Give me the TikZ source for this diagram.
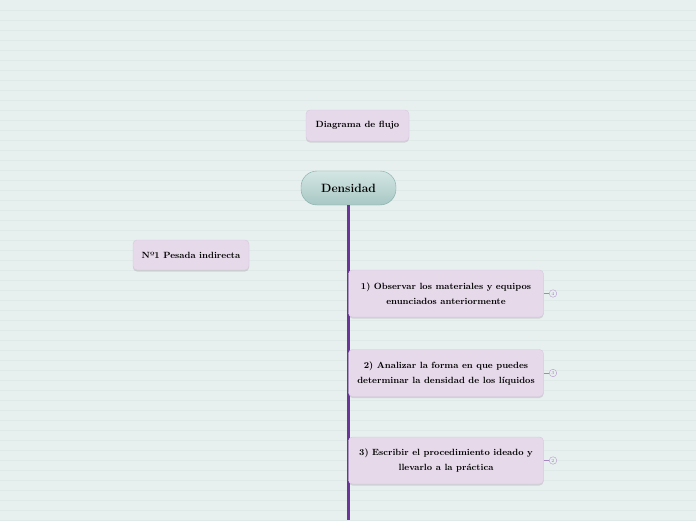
\documentclass[tikz,border=0pt]{standalone}
\usetikzlibrary{shadows,positioning}
\definecolor{bgmint}{HTML}{E8F0EF}
\definecolor{bgline}{HTML}{DFE9E8}
\definecolor{boxlila}{HTML}{E6D9EA}
\definecolor{boxedge}{HTML}{D6C7DE}
\definecolor{trunk}{HTML}{6B359A}
\definecolor{tealtop}{HTML}{D3E6E4}
\definecolor{tealbot}{HTML}{A8C7C4}
\definecolor{tealedge}{HTML}{80ABA7}
\tikzset{
  topic/.style    = {draw=boxedge, fill=boxlila, rounded corners=4pt,
                     align=center, inner sep=2pt,
                     font=\bfseries\fontsize{9}{15}\selectfont,
                     drop shadow={opacity=0.25, shadow xshift=0pt,
                                  shadow yshift=-1.5pt}},
  central/.style  = {draw=tealedge, top color=tealtop, bottom color=tealbot,
                     rounded corners=16pt, minimum width=95pt,
                     minimum height=34pt,
                     font=\bfseries\fontsize{12}{14}\selectfont},
  counter/.style  = {draw=trunk!50, fill=bgmint, circle, inner sep=0pt,
                     minimum size=7.5pt, font=\fontsize{4.5}{4.5}\selectfont,
                     text=trunk!65},
  branch/.style   = {trunk, line width=3pt},
  twig/.style     = {trunk!60, line width=0.7pt},
}
\begin{document}
\begin{tikzpicture}[x=1pt,y=-1pt]
\fill[bgmint] (0,0) rectangle (696,520);
\useasboundingbox (0,0) rectangle (696,520);
\foreach \y in {10,20,...,520}
  \draw[bgline, line width=0.8pt] (0,\y) -- (696,\y);
% central idea and trunk
\coordinate (bottom) at (348.5,520);
\node[central] (dens) at (348.5,188) {Densidad};
\draw[branch] (dens.south) -- (bottom);
% floating topics
\node[topic, minimum width=103pt, minimum height=31pt] (diag) at (357.5,125.5)
  {Diagrama de flujo};
\node[topic, minimum width=116pt, minimum height=30pt] (pesada) at (191,255)
  {Nº1 Pesada indirecta};
% steps
\node[topic, minimum width=195pt, minimum height=47pt] (obs) at (446,293.5)
  {1) Observar los materiales y equipos\\ enunciados anteriormente};
\node[topic, minimum width=195pt, minimum height=47pt] (anal) at (446,373)
  {2) Analizar la forma en que puedes\\ determinar la densidad de los líquidos};
\node[topic, minimum width=195pt, minimum height=47pt] (escr) at (446,460.5)
  {3) Escribir el procedimiento ideado y\\ llevarlo a la práctica};
\node[counter] (c1) at (553,293.5) {4};
\node[counter] (c2) at (553,373) {3};
\node[counter] (c3) at (553,460.5) {2};
\draw[twig] (obs.east) -- (c1);
\draw[twig] (anal.east) -- (c2);
\draw[twig] (escr.east) -- (c3);
\end{tikzpicture}
\end{document}
